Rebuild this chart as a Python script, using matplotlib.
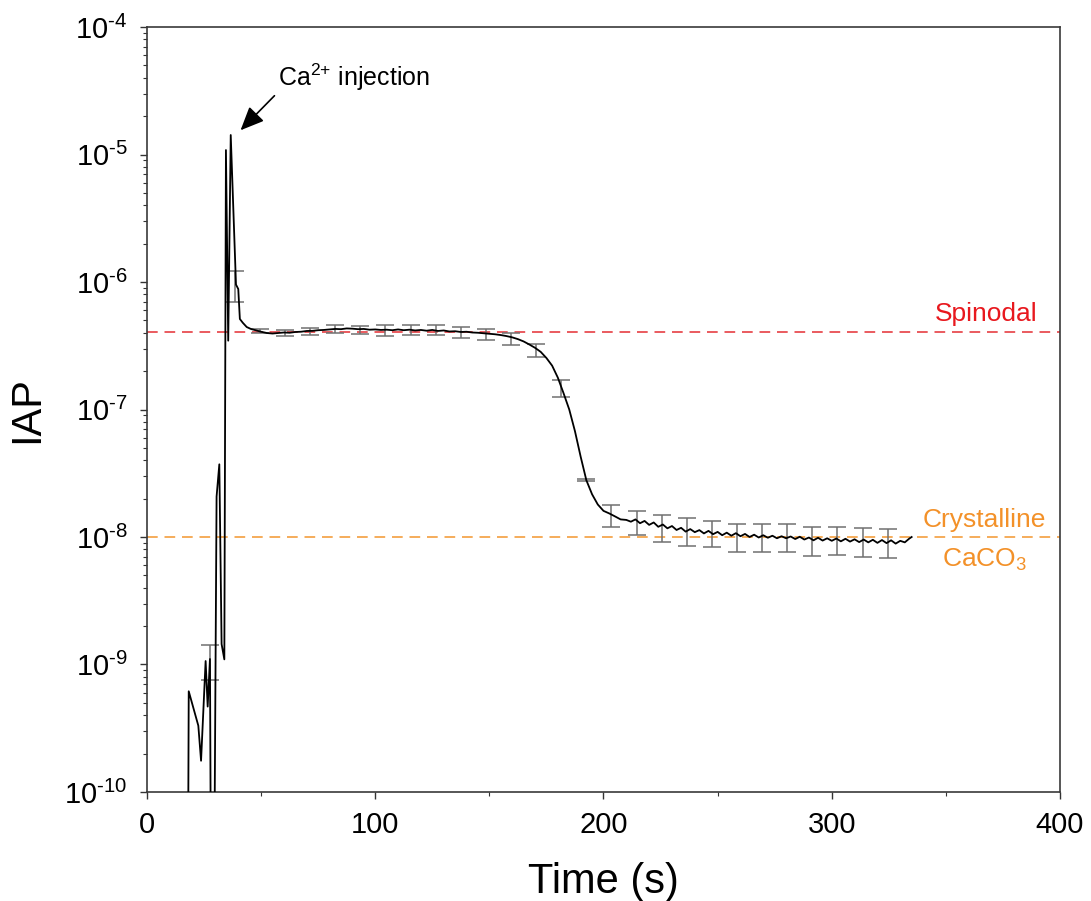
import numpy as np
import matplotlib
matplotlib.use("Agg")
import matplotlib.pyplot as plt
from matplotlib.ticker import LogLocator, FixedLocator, NullFormatter, FuncFormatter

plt.rcParams['font.family'] = ['Liberation Sans', 'DejaVu Sans']
plt.rcParams['mathtext.fontset'] = 'custom'
plt.rcParams['mathtext.rm'] = 'Liberation Sans'
plt.rcParams['mathtext.it'] = 'Liberation Sans:italic'
plt.rcParams['mathtext.bf'] = 'Liberation Sans:bold'
plt.rcParams['axes.unicode_minus'] = False

# === DATA ===
# time (s) and log10(IAP); values below -10 run off the bottom of the axis
t_trace = [18.0, 18.3, 22.5, 23.7, 25.7, 26.6, 27.6, 28.0, 29.5, 30.5,
           31.7, 32.7, 33.9, 34.6, 35.6, 36.7, 39.0, 40.0, 40.7, 42.0,
           43.7, 45.5,
           47.5, 50, 52.5, 55, 57.5, 60, 62.5, 65, 67.5, 70,
           72.5, 75, 77.5, 80, 82.5, 85, 87.5, 90, 92.5, 95,
           97.5, 100, 102.5, 105, 107.5, 110, 112.5, 115, 117.5, 120,
           122.5, 125, 127.5, 130, 132.5, 135, 137.5, 140, 142.5, 145,
           147.5, 150, 152.5, 155, 157.5, 160, 162.5, 165, 167.5, 170,
           172.5, 175, 177.5, 180, 182.5, 185, 187.5, 190, 192.5, 195,
           197.5, 200, 202.5, 205, 207.5, 210,
           212, 214, 216, 218, 220, 222, 224, 226, 228, 230,
           232, 234, 236, 238, 240, 242, 244, 246, 248, 250,
           252, 254, 256, 258, 260, 262, 264, 266, 268, 270,
           272, 274, 276, 278, 280, 282, 284, 286, 288, 290,
           292, 294, 296, 298, 300, 302, 304, 306, 308, 310,
           312, 314, 316, 318, 320, 322, 324, 326, 328, 330,
           332, 334, 335]
log_iap = [-10.6, -9.21, -9.48, -9.755, -8.973, -9.33, -8.957, -10.6, -10.6, -7.683,
           -7.43, -8.84, -8.96, -4.965, -6.46, -4.847, -6.02, -6.055, -6.29, -6.32,
           -6.353, -6.368,
           -6.378, -6.390, -6.400, -6.404, -6.400, -6.396, -6.398, -6.392, -6.390, -6.384,
           -6.383, -6.378, -6.376, -6.372, -6.368, -6.370, -6.364, -6.366, -6.370, -6.368,
           -6.374, -6.372, -6.376, -6.374, -6.378, -6.372, -6.378, -6.374, -6.380, -6.376,
           -6.382, -6.376, -6.384, -6.380, -6.388, -6.386, -6.392, -6.390, -6.396, -6.398,
           -6.402, -6.406, -6.410, -6.416, -6.424, -6.434, -6.448, -6.466, -6.490, -6.516,
           -6.548, -6.596, -6.656, -6.750, -6.872, -7.000, -7.170, -7.370, -7.555, -7.665,
           -7.745, -7.795, -7.815, -7.838, -7.862, -7.866,
           -7.880, -7.862, -7.892, -7.874, -7.905, -7.886, -7.920, -7.902, -7.932, -7.914,
           -7.945, -7.928, -7.958, -7.938, -7.962, -7.946, -7.972, -7.952, -7.978, -7.960,
           -7.986, -7.966, -7.990, -7.970, -7.994, -7.976, -8.000, -7.982, -8.004, -7.986,
           -8.006, -7.990, -8.010, -7.994, -8.010, -7.996, -8.016, -7.998, -8.020, -8.004,
           -8.026, -8.006, -8.028, -8.010, -8.030, -8.012, -8.034, -8.014, -8.036, -8.018,
           -8.040, -8.020, -8.042, -8.022, -8.046, -8.024, -8.048, -8.026, -8.052, -8.030,
           -8.042, -8.012, -8.000]

# error bars: time, upper and lower IAP
t_err = [27.5, 38.5, 49.5, 60.5, 71.5, 82.5, 93.5, 104.5, 115.5, 126.5,
         137.5, 148.5, 159.5, 170.5, 181.5, 192.5, 203.5, 214.5, 225.5, 236.5,
         247.5, 258.5, 269.5, 280.5, 291.5, 302.5, 313.5, 324.5]
err_hi = [1.42e-9, 1.22e-6, 4.26e-7, 4.21e-7, 4.34e-7, 4.60e-7, 4.54e-7, 4.60e-7, 4.60e-7, 4.60e-7,
          4.46e-7, 4.28e-7, 3.96e-7, 3.27e-7, 1.70e-7, 2.85e-8, 1.78e-8, 1.61e-8, 1.49e-8, 1.40e-8,
          1.34e-8, 1.27e-8, 1.26e-8, 1.26e-8, 1.20e-8, 1.20e-8, 1.17e-8, 1.16e-8]
err_lo = [7.5e-10, 7.0e-7, 3.96e-7, 3.77e-7, 3.84e-7, 4.00e-7, 3.89e-7, 3.77e-7, 3.84e-7, 3.84e-7,
          3.61e-7, 3.51e-7, 3.21e-7, 2.60e-7, 1.26e-7, 2.75e-8, 1.20e-8, 1.04e-8, 9.2e-9, 8.55e-9,
          8.3e-9, 7.67e-9, 7.59e-9, 7.67e-9, 7.1e-9, 7.2e-9, 7.0e-9, 6.8e-9]

SPINODAL = 4.05e-7
CRYSTALLINE = 1.0e-8

# === PLOT ===
fig = plt.figure(figsize=(10.91, 9.01), dpi=100)
ax = fig.add_axes([0.1347, 0.121, 0.8369, 0.849])

iap = 10 ** np.array(log_iap)
hi = np.array(err_hi)
lo = np.array(err_lo)
mid = np.sqrt(hi * lo)

ax.axhline(SPINODAL, color='#ea5a5e', lw=1.4, dashes=(5.5, 3.5), zorder=1)
ax.axhline(CRYSTALLINE, color='#f5ac5a', lw=1.4, dashes=(5.5, 3.5), zorder=1)

ax.errorbar(t_err, mid, yerr=[mid - lo, hi - mid], fmt='none', ecolor='#707070',
            elinewidth=1.1, capsize=6.5, capthick=1.1, zorder=2)
ax.plot(t_trace, iap, color='black', lw=1.3, zorder=3)

ax.set_yscale('log')
ax.set_xlim(0, 400)
ax.set_ylim(1e-10, 1e-4)

ax.xaxis.set_major_locator(FixedLocator([0, 100, 200, 300, 400]))
ax.xaxis.set_minor_locator(FixedLocator([50, 150, 250, 350]))
ax.yaxis.set_major_locator(LogLocator(base=10, numticks=10))
ax.yaxis.set_minor_locator(LogLocator(base=10, subs=np.arange(2, 10), numticks=10))
ax.yaxis.set_minor_formatter(NullFormatter())
ax.yaxis.set_major_formatter(FuncFormatter(
    lambda v, p: r'$\mathregular{10^{\text{-%d}}}$' % int(round(-np.log10(v)))))

ax.tick_params(axis='both', which='major', direction='out', length=5, width=1,
               labelsize=21, top=False, right=False, color='#333333')
ax.tick_params(axis='both', which='minor', direction='out', length=3, width=0.8,
               top=False, right=False, color='#333333')
ax.tick_params(axis='x', which='major', pad=9)
ax.tick_params(axis='y', which='major', pad=9)

for side in ['left', 'bottom', 'right', 'top']:
    ax.spines[side].set_linewidth(1.2)
    ax.spines[side].set_color('#3a3a3a')

ax.set_xlabel('Time (s)', fontsize=30, labelpad=16)
ax.set_ylabel('IAP', fontsize=30, labelpad=12)

ax.text(390, 5.6e-7, 'Spinodal', color='#e8181e', fontsize=19, ha='right', va='center')
ax.text(367, 1.36e-8, 'Crystalline', color='#f39129', fontsize=19, ha='center', va='center')
ax.text(367, 6.6e-9, r'$\mathregular{CaCO_3}$', color='#f39129', fontsize=19,
        ha='center', va='center')

ax.annotate(r'Ca$^{\text{2+}}$ injection', xy=(41, 1.55e-5), xytext=(57.5, 4.0e-5),
            fontsize=18, ha='left', va='center',
            arrowprops=dict(arrowstyle='-|>,head_length=0.8,head_width=0.35',
                            color='black', lw=1.2, shrinkA=1, shrinkB=0,
                            relpos=(0.0, 0.05)))

fig.savefig('out.png', dpi=100)
